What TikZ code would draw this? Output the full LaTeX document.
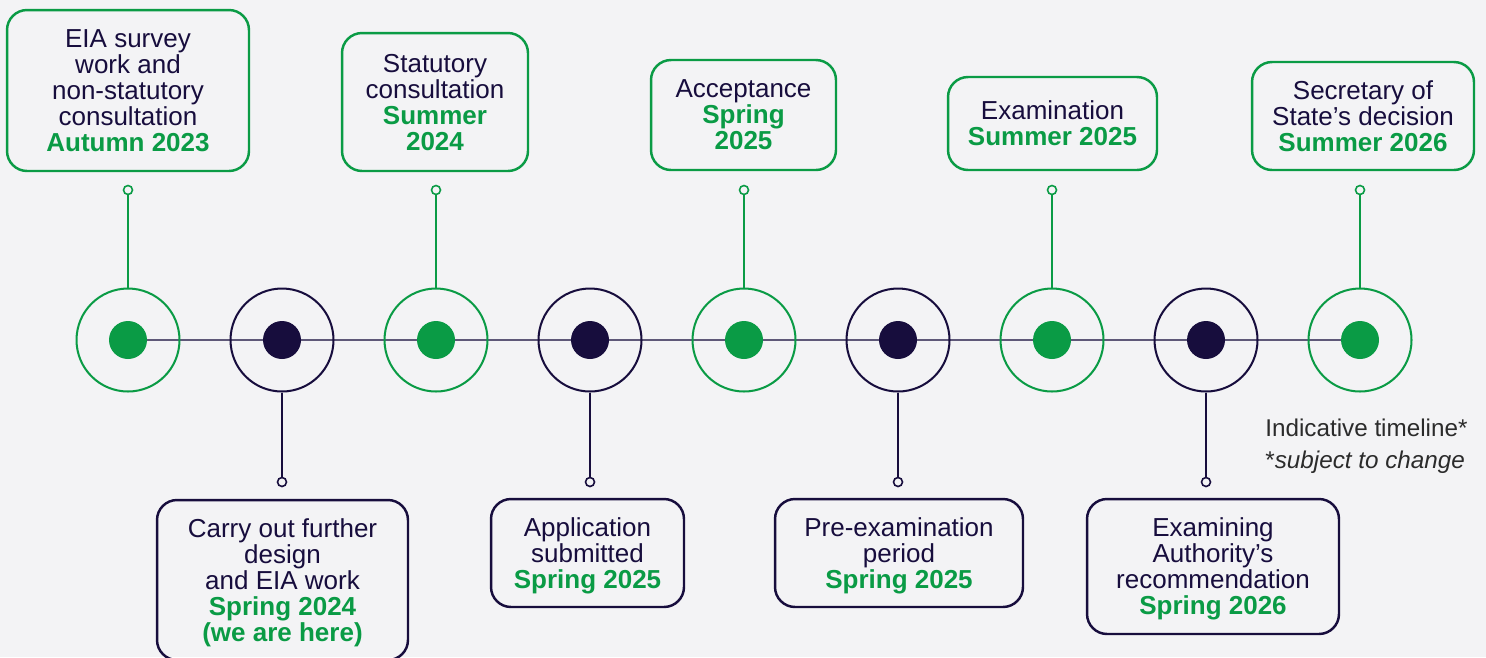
\documentclass[tikz,border=0pt]{standalone}
\usepackage{fontspec}
\setmainfont{Liberation Sans}
\usepackage{xcolor}
\usetikzlibrary{backgrounds}

\definecolor{bgcol}{HTML}{F3F3F5}
\definecolor{stagegreen}{HTML}{0A9B45}
\definecolor{stagenavy}{HTML}{170D3D}
\definecolor{axisgrey}{HTML}{5E5878}
\definecolor{notegrey}{HTML}{2B2B2B}

\tikzset{
  ring/.style={circle, draw, line width=1.15pt, minimum size=2.06cm, inner sep=0pt},
  dot/.style={circle, fill, minimum size=0.76cm, inner sep=0pt},
  pin/.style={circle, fill=bgcol, line width=0.9pt, minimum size=0.18cm, inner sep=0pt},
  stem/.style={line width=1.15pt},
  card/.style={draw, rounded corners=0.4cm, line width=1.4pt, align=center, inner sep=0pt,
    text depth=0pt, text=stagenavy, font=\fontsize{14.8}{14.8}\selectfont},
  notetext/.style={anchor=base west, inner sep=0pt, text=notegrey, font=\fontsize{13.8}{16}\selectfont}
}
\newcommand{\when}[1]{\textcolor{stagegreen}{\bfseries #1}}

\begin{document}
\begin{tikzpicture}[x=0.02cm, y=-0.02cm]

\useasboundingbox (0,0) rectangle (1486,657);
\clip (0,0) rectangle (1486,657);

% rings on the timeline
\node[ring, stagegreen] (r1) at (128,340)  {};
\node[ring, stagenavy]  (r2) at (282,340)  {};
\node[ring, stagegreen] (r3) at (436,340)  {};
\node[ring, stagenavy]  (r4) at (590,340)  {};
\node[ring, stagegreen] (r5) at (744,340)  {};
\node[ring, stagenavy]  (r6) at (898,340)  {};
\node[ring, stagegreen] (r7) at (1052,340) {};
\node[ring, stagenavy]  (r8) at (1206,340) {};
\node[ring, stagegreen] (r9) at (1360,340) {};

\node[dot, stagegreen] (d1) at (r1) {};
\node[dot, stagenavy]  (d2) at (r2) {};
\node[dot, stagegreen] (d3) at (r3) {};
\node[dot, stagenavy]  (d4) at (r4) {};
\node[dot, stagegreen] (d5) at (r5) {};
\node[dot, stagenavy]  (d6) at (r6) {};
\node[dot, stagegreen] (d7) at (r7) {};
\node[dot, stagenavy]  (d8) at (r8) {};
\node[dot, stagegreen] (d9) at (r9) {};

\begin{pgfonlayer}{background}
\fill[bgcol] (0,0) rectangle (1486,657);
\draw[axisgrey, line width=0.7pt] (d1.center) -- (d9.center);
\end{pgfonlayer}

% pins
\node[pin, draw=stagegreen] (p1) at (128,190)  {};
\node[pin, draw=stagenavy]  (p2) at (282,482)  {};
\node[pin, draw=stagegreen] (p3) at (436,190)  {};
\node[pin, draw=stagenavy]  (p4) at (590,482)  {};
\node[pin, draw=stagegreen] (p5) at (744,190)  {};
\node[pin, draw=stagenavy]  (p6) at (898,482)  {};
\node[pin, draw=stagegreen] (p7) at (1052,190) {};
\node[pin, draw=stagenavy]  (p8) at (1206,482) {};
\node[pin, draw=stagegreen] (p9) at (1360,190) {};

\draw[stem, stagegreen] (r1) -- (p1);
\draw[stem, stagenavy]  (r2) -- (p2);
\draw[stem, stagegreen] (r3) -- (p3);
\draw[stem, stagenavy]  (r4) -- (p4);
\draw[stem, stagegreen] (r5) -- (p5);
\draw[stem, stagenavy]  (r6) -- (p6);
\draw[stem, stagegreen] (r7) -- (p7);
\draw[stem, stagenavy]  (r8) -- (p8);
\draw[stem, stagegreen] (r9) -- (p9);

% cards above
\node[card, draw=stagegreen, minimum width=4.84cm, minimum height=3.22cm] (survey) at (128,90.5)
  {EIA survey\\ work and\\ non-statutory\\ consultation\\ \when{Autumn 2023}};
\node[card, draw=stagegreen, minimum width=3.72cm, minimum height=2.76cm] (statcons) at (435,102)
  {Statutory\\ consultation\\ \when{Summer}\\ \when{2024}};
\node[card, draw=stagegreen, minimum width=3.70cm, minimum height=2.20cm] (accept) at (743.5,115)
  {Acceptance\\ \when{Spring}\\ \when{2025}};
\node[card, draw=stagegreen, minimum width=4.18cm, minimum height=1.86cm] (exam) at (1052.5,123.5)
  {Examination\\ \when{Summer 2025}};
\node[card, draw=stagegreen, minimum width=4.44cm, minimum height=2.16cm] (decision) at (1363,116)
  {Secretary of\\ State’s decision\\ \when{Summer 2026}};

% cards below
\node[card, draw=stagenavy, minimum width=5.02cm, minimum height=3.20cm] (design) at (282.5,580)
  {Carry out further\\ design\\ and EIA work\\ \when{Spring 2024}\\ \when{(we are here)}};
\node[card, draw=stagenavy, minimum width=3.86cm, minimum height=2.16cm] (submit) at (587.5,553)
  {Application\\ submitted\\ \when{Spring 2025}};
\node[card, draw=stagenavy, minimum width=4.96cm, minimum height=2.16cm] (preexam) at (899,553)
  {Pre-examination\\ period\\ \when{Spring 2025}};
\node[card, draw=stagenavy, minimum width=5.04cm, minimum height=2.70cm] (recommend) at (1213,566.5)
  {Examining\\ Authority’s\\ recommendation\\ \when{Spring 2026}};

\node[notetext] (note) at (1265,436) {Indicative timeline*};
\node[notetext] (caveat) at (1265,468) {*\textit{subject to change}};

\end{tikzpicture}
\end{document}
